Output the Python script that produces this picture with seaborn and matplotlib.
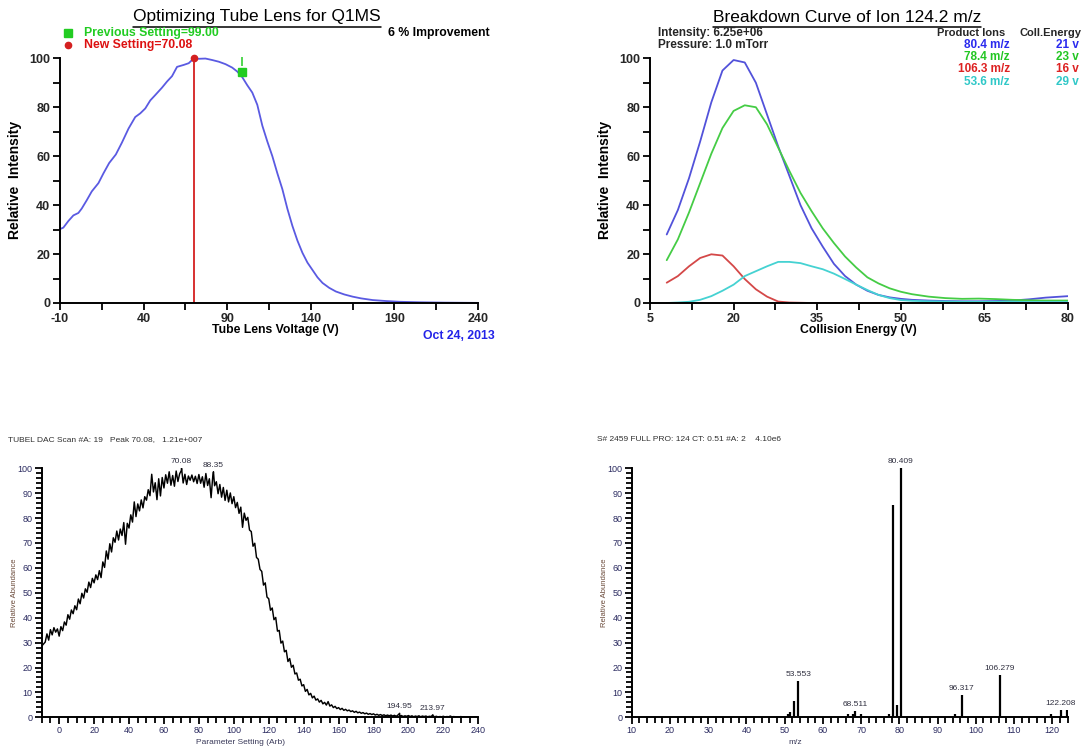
import numpy as np
import pandas as pd
import matplotlib
matplotlib.use("Agg")
import matplotlib.pyplot as plt
from matplotlib import font_manager
from matplotlib.lines import Line2D
import seaborn as sns

# ---------------- data ----------------
# Tube lens optimisation (relative intensity vs. tube lens voltage)
lens_voltage = [-10, -8, -5, -2, 1, 3, 6, 9, 13, 16, 19.4, 23.4, 27, 31, 35, 38, 41, 44,
                47, 51, 54, 57, 60, 64, 67, 70.08, 73, 77, 81, 85, 89, 93, 96, 99, 102,
                105, 108, 111, 114, 117, 120, 123, 126, 129, 132, 135, 138, 141, 144,
                147, 151, 155, 160, 165, 170, 177, 185, 193, 205, 220, 240]
lens_intensity = [30.2, 30.8, 33.5, 35.8, 36.8, 38.6, 42.0, 45.6, 49.0, 53.0, 57.2, 60.7,
                  65.5, 71.3, 76.0, 77.5, 79.5, 82.8, 85.0, 88.0, 90.5, 92.7, 96.5, 97.3,
                  98.0, 100.0, 99.8, 99.9, 99.3, 98.6, 97.6, 96.2, 94.6, 92.3, 89.0, 86.0,
                  81.0, 72.5, 66.0, 60.0, 53.0, 46.5, 38.5, 31.5, 25.5, 20.5, 16.5, 13.5,
                  10.5, 8.2, 6.2, 4.7, 3.5, 2.6, 1.9, 1.2, 0.8, 0.5, 0.3, 0.15, 0.05]
previous_setting = 99.00
previous_intensity = 94.3
new_setting = 70.08
new_intensity = 100.0
improvement_pct = 6

# Breakdown curve of ion 124.2 m/z
collision_energy = [8, 10, 12, 14, 16, 18, 20, 22, 24, 26, 28, 30, 32, 34, 36, 38, 40, 42,
                    44, 46, 48, 50, 52, 55, 58, 61, 64, 67, 70, 73, 76, 80]
ion_80_4 = [28.0, 38.0, 51.0, 66.0, 82.0, 95.0, 99.3, 98.3, 90.0, 77.0, 64.0, 52.0, 40.0,
            30.5, 23.0, 16.0, 11.0, 7.5, 5.0, 3.3, 2.3, 1.7, 1.3, 1.0, 0.8, 0.7, 0.7, 0.8,
            1.0, 1.5, 2.2, 2.8]
ion_78_4 = [17.5, 26.0, 37.0, 49.0, 61.0, 71.5, 78.5, 80.8, 80.0, 73.0, 63.5, 54.0, 45.0,
            37.5, 30.5, 24.5, 19.0, 14.5, 10.5, 8.0, 6.0, 4.6, 3.6, 2.6, 2.0, 1.7, 1.8, 1.6,
            1.3, 1.1, 1.0, 1.0]
ion_106_3 = [8.3, 11.0, 15.0, 18.4, 19.9, 19.4, 15.0, 9.8, 5.6, 2.6, 0.6, 0.2, 0.1, 0.0,
             0.0, 0.0, 0.0, 0.0, 0.0, 0.0, 0.0, 0.0, 0.0, 0.0, 0.0, 0.0, 0.0, 0.0, 0.0, 0.0,
             0.0, 0.0]
ion_53_6 = [0.0, 0.2, 0.5, 1.3, 2.8, 5.0, 7.5, 11.0, 13.0, 15.0, 16.8, 16.8, 16.3, 15.0,
            13.8, 12.0, 9.8, 7.5, 5.3, 3.3, 2.0, 1.2, 0.9, 0.7, 0.6, 0.5, 0.5, 0.5, 0.5, 0.4,
            0.4, 0.4]
product_ions = ["80.4 m/z", "78.4 m/z", "106.3 m/z", "53.6 m/z"]
optimal_energy = ["21 v", "23 v", "16 v", "29 v"]

# TUBEL DAC scan, one reading per unit from -10 to 240
scan_abundance = [
    28.6, 29.4, 30.2, 33.5, 31.0, 35.2, 33.1, 36.0, 34.2, 35.5,
    32.6, 36.4, 34.8, 38.3, 37.0, 41.2, 39.4, 43.1, 41.6, 44.8,
    43.2, 47.5, 45.6, 49.8, 47.9, 51.6, 50.2, 54.3, 52.1, 55.8,
    54.0, 57.2, 55.3, 58.9, 56.1, 62.4, 60.2, 66.8, 63.5, 69.7,
    66.4, 72.1, 70.3, 74.8, 71.2, 75.6, 73.0, 78.2, 69.5, 77.9,
    76.0, 81.3, 78.4, 86.5, 80.6, 85.7, 82.9, 87.3, 84.1, 88.6,
    87.2, 91.4, 89.0, 97.6, 90.5, 94.2, 87.4, 95.8, 88.9, 96.3,
    92.1, 97.4, 94.0, 98.6, 93.2, 97.1, 92.8, 98.9, 94.7, 97.8,
    99.2, 94.1, 97.6, 93.5, 96.9, 95.2, 97.3, 94.6, 96.8, 93.9,
    97.5, 94.0, 96.6, 92.4, 97.9, 93.1, 95.8, 88.2, 97.2, 93.0,
    94.6, 89.8, 93.5, 88.4, 92.3, 87.1, 91.2, 86.5, 90.1, 85.8,
    88.6, 84.2, 86.3, 81.9, 84.4, 76.3, 82.0, 79.1, 80.3, 75.2,
    74.6, 68.7, 69.9, 64.2, 63.5, 59.4, 58.6, 53.1, 54.0, 48.3,
    47.6, 43.0, 43.9, 39.2, 40.1, 34.6, 34.9, 29.8, 30.6, 26.3,
    26.9, 22.4, 23.6, 20.1, 20.9, 17.4, 17.8, 14.9, 15.3, 12.6,
    13.1, 10.4, 11.2, 9.0, 9.6, 7.8, 8.5, 6.9, 7.4, 6.1,
    6.8, 5.4, 6.0, 4.9, 6.3, 4.5, 5.0, 3.9, 4.4, 3.5,
    3.9, 3.1, 3.6, 2.8, 3.2, 2.6, 2.9, 2.3, 2.6, 2.0,
    2.4, 1.8, 2.1, 1.6, 1.9, 1.4, 1.7, 1.2, 1.5, 1.1,
    1.4, 0.9, 1.2, 0.8, 1.1, 0.7, 1.0, 0.6, 0.9, 0.6,
    0.9, 0.5, 0.8, 0.4, 0.9, 0.5, 0.7, 0.3, 0.6, 0.4,
    0.7, 0.3, 0.6, 0.2, 0.5, 0.3, 0.6, 0.2, 0.5, 0.3,
    0.5, 0.2, 0.4, 0.3, 0.6, 0.2, 0.4, 0.1, 0.3, 0.2,
    0.4, 0.1, 0.3, 0.2, 0.5, 0.1, 0.3, 0.1, 0.2, 0.1,
    0.3, 0.1, 0.2, 0.0, 0.2, 0.1, 0.1, 0.0, 0.1, 0.0, 0.0]
scan_peaks_x = [70.08, 88.35, 194.95, 213.97]
scan_peaks_y = [100.0, 98.6, 1.6, 1.0]

# Product ion spectrum of m/z 124
spec_mz = [50.96, 51.40, 52.45, 53.553, 66.65, 67.80, 68.511, 69.90, 77.40, 78.45,
           79.45, 80.409, 94.55, 96.317, 106.279, 119.80, 122.208, 123.90]
spec_abundance = [1.2, 2.3, 6.4, 14.4, 1.2, 1.3, 2.4, 1.2, 1.2, 85.3,
                  4.8, 100.0, 1.2, 9.0, 16.8, 1.2, 2.9, 2.9]
spec_labelled = [53.553, 68.511, 80.409, 96.317, 106.279, 122.208]

# ---------------- style ----------------
sns.set_theme(style="white")
installed = {f.name for f in font_manager.fontManager.ttflist}
NARROW = "Liberation Sans Narrow" if "Liberation Sans Narrow" in installed else "Liberation Sans"
plt.rcParams["font.family"] = ["Liberation Sans", "DejaVu Sans"]
plt.rcParams["axes.edgecolor"] = "black"
plt.rcParams["axes.unicode_minus"] = False

W, H = 1082, 746
fig = plt.figure(figsize=(W / 100, H / 100), dpi=100)


def fx(px):
    return px / W


def fy(py):
    return 1 - py / H


def panel(left, top, right, bottom):
    return fig.add_axes([fx(left), fy(bottom), fx(right) - fx(left), (bottom - top) / H])


def style_top(ax):
    for s in ("top", "right"):
        ax.spines[s].set_visible(False)
    for s in ("left", "bottom"):
        ax.spines[s].set_linewidth(1.4)
    ax.tick_params(which="both", direction="out", length=5, width=1.3,
                   color="black", labelsize=9, pad=2, left=True, bottom=True)
    for lab in ax.get_xticklabels() + ax.get_yticklabels():
        lab.set_fontweight("bold")
        lab.set_family(NARROW)
    ax.set_ylim(0, 100)
    ax.set_yticks(np.arange(0, 101, 20))
    ax.set_yticks(np.arange(10, 100, 20), minor=True)
    ax.set_facecolor("white")


def style_bottom(ax):
    for s in ("top", "right"):
        ax.spines[s].set_visible(False)
    for s in ("left", "bottom"):
        ax.spines[s].set_linewidth(1.4)
    ax.tick_params(which="major", direction="out", length=5, width=1.3, color="black",
                   labelsize=6.5, labelcolor="#2b2b60", pad=1.5, left=True, bottom=True)
    ax.tick_params(which="minor", direction="out", length=4, width=1.3, color="black",
                   left=True, bottom=True)
    ax.set_ylim(0, 100)
    ax.set_yticks(np.arange(0, 101, 10))
    ax.set_yticks(np.arange(0, 101, 2), minor=True)
    ax.set_facecolor("white")


def underline(txt, gap=2):
    fig.canvas.draw()
    bb = txt.get_window_extent(fig.canvas.get_renderer())
    y = (bb.y0 - gap) / H
    fig.add_artist(Line2D([bb.x0 / W, bb.x1 / W], [y, y], transform=fig.transFigure,
                          color="black", lw=1.1))


# ---------------- top left: tube lens ----------------
ax1 = panel(60, 58.3, 478, 303)
lens_df = pd.DataFrame({"voltage": lens_voltage, "intensity": lens_intensity})
sns.lineplot(data=lens_df, x="voltage", y="intensity", ax=ax1, color="#5a5ae2",
             lw=1.3, estimator=None, sort=False, clip_on=False)
ax1.vlines(new_setting, 0, new_intensity, color="#d42020", lw=1.3)
ax1.plot(new_setting, new_intensity, "o", color="#d42020", ms=4.5, clip_on=False, zorder=5)
ax1.plot(previous_setting, previous_intensity, "s", color="#22cc22", ms=6, clip_on=False, zorder=5)
ax1.vlines(previous_setting, previous_intensity + 2.6, 100.5, color="#22cc22", lw=1.1,
           clip_on=False)
ax1.set_xlim(-10, 240)
ax1.set_xticks(np.arange(-10, 241, 50))
ax1.set_xticks(np.arange(15, 241, 50), minor=True)
ax1.set_xlabel("")
ax1.set_ylabel("")
style_top(ax1)

t1 = fig.text(fx(257), fy(17), "Optimizing Tube Lens for Q1MS", ha="center", va="center",
              fontsize=12.5, color="black")
underline(t1)
fig.add_artist(Line2D([fx(68)], [fy(33)], marker="s", color="#22cc22", ms=5.5,
                      transform=fig.transFigure))
fig.add_artist(Line2D([fx(68)], [fy(45)], marker="o", color="#d42020", ms=4.5,
                      transform=fig.transFigure))
fig.text(fx(84), fy(33), f"Previous Setting={previous_setting:.2f}", ha="left", va="center",
         fontsize=8.8, fontweight="bold", color="#22cc22", family=NARROW)
fig.text(fx(84), fy(45), f"New Setting={new_setting:.2f}", ha="left", va="center",
         fontsize=8.8, fontweight="bold", color="#dd1111", family=NARROW)
fig.text(fx(490), fy(33), f"{improvement_pct} % Improvement", ha="right", va="center",
         fontsize=8.8, fontweight="bold", color="black", family=NARROW)
fig.text(fx(15), fy(180), "Relative  Intensity", rotation=90, ha="center", va="center",
         fontsize=10, fontweight="bold", color="black")
fig.text(fx(275), fy(330), "Tube Lens Voltage (V)", ha="center", va="center",
         fontsize=8.8, fontweight="bold", color="black", family=NARROW)
fig.text(fx(495), fy(336), "Oct 24, 2013", ha="right", va="center",
         fontsize=8.8, fontweight="bold", color="#2323e8", family=NARROW)

# ---------------- top right: breakdown curve ----------------
ax2 = panel(650, 58.3, 1068, 303)
line_colors = ["#5252da", "#45cc45", "#d44848", "#45d2d2"]
text_colors = ["#2a2aee", "#22c622", "#dd2222", "#30c8c8"]
breakdown = pd.DataFrame({"energy": collision_energy * 4,
                          "intensity": ion_80_4 + ion_78_4 + ion_106_3 + ion_53_6,
                          "ion": np.repeat(product_ions, len(collision_energy))})
sns.lineplot(data=breakdown, x="energy", y="intensity", hue="ion", hue_order=product_ions,
             palette=line_colors, ax=ax2, lw=1.3, estimator=None, sort=False, legend=False)
ax2.set_xlim(5, 80)
ax2.set_xticks(np.arange(5, 81, 15))
ax2.set_xticks(np.arange(12.5, 80, 15), minor=True)
ax2.set_xlabel("")
ax2.set_ylabel("")
style_top(ax2)

t2 = fig.text(fx(847), fy(17), "Breakdown Curve of Ion 124.2 m/z", ha="center", va="center",
              fontsize=12.5, color="black")
underline(t2)
fig.text(fx(658), fy(33), "Intensity: 6.25e+06", ha="left", va="center",
         fontsize=8.5, fontweight="bold", family=NARROW)
fig.text(fx(658), fy(44.5), "Pressure: 1.0 mTorr", ha="left", va="center",
         fontsize=8.5, fontweight="bold", family=NARROW)
fig.text(fx(1005), fy(33), "Product Ions", ha="right", va="center",
         fontsize=8, fontweight="bold", family=NARROW)
fig.text(fx(1081), fy(33), "Coll.Energy", ha="right", va="center",
         fontsize=8, fontweight="bold", family=NARROW)
for i, (ion, ce) in enumerate(zip(product_ions, optimal_energy)):
    yy = 44.5 + i * 12.5
    fig.text(fx(1010), fy(yy), ion, ha="right", va="center", fontsize=8.5,
             fontweight="bold", color=text_colors[i], family=NARROW)
    fig.text(fx(1079), fy(yy), ce, ha="right", va="center", fontsize=8.5,
             fontweight="bold", color=text_colors[i], family=NARROW)
fig.text(fx(605), fy(180), "Relative  Intensity", rotation=90, ha="center", va="center",
         fontsize=10, fontweight="bold", color="black")
fig.text(fx(858), fy(330), "Collision Energy (V)", ha="center", va="center",
         fontsize=8.8, fontweight="bold", color="black", family=NARROW)

# ---------------- bottom left: DAC scan ----------------
ax3 = panel(41.7, 468.3, 478.3, 717.3)
scan_x = np.arange(-10, 241, 1.0)
scan_df = pd.concat([
    pd.DataFrame({"setting": scan_x, "abundance": scan_abundance}),
    pd.DataFrame({"setting": scan_peaks_x, "abundance": scan_peaks_y}),
]).sort_values("setting")
sns.lineplot(data=scan_df, x="setting", y="abundance", ax=ax3, color="black", lw=1.05,
             estimator=None, sort=False)
for px_, py_ in zip(scan_peaks_x, scan_peaks_y):
    ax3.text(px_, py_ + 1.3, f"{px_:.2f}", ha="center", va="bottom", fontsize=6,
             color="#303040", clip_on=False)
ax3.set_xlim(-10, 240)
ax3.set_xticks(np.arange(0, 241, 20))
ax3.set_xticks(np.arange(-10, 241, 5), minor=True)
ax3.set_xlabel("")
ax3.set_ylabel("")
style_bottom(ax3)
fig.text(fx(8), fy(440), "TUBEL DAC Scan #A: 19   Peak 70.08,   1.21e+007", ha="left",
         va="center", fontsize=6, color="#303030")
fig.text(fx(15), fy(593), "Relative Abundance", rotation=90, ha="center", va="center",
         fontsize=5.5, color="#6a4a3a")
fig.text(fx(240), fy(743), "Parameter Setting (Arb)", ha="center", va="center",
         fontsize=6, color="#3a3a5a")

# ---------------- bottom right: spectrum ----------------
ax4 = panel(631.7, 468.3, 1068.3, 717.3)
ax4.vlines(spec_mz, 0, spec_abundance, color="black", lw=1.6)
for mz, ab in zip(spec_mz, spec_abundance):
    if mz in spec_labelled:
        ax4.text(mz, ab + 1.2, f"{mz:.3f}", ha="center", va="bottom", fontsize=6,
                 color="#303040", clip_on=False)
ax4.set_xlim(10, 124.2)
ax4.set_xticks(np.arange(10, 121, 10))
ax4.set_xticks(np.arange(10, 124.2, 2), minor=True)
style_bottom(ax4)
fig.text(fx(597), fy(440), "S# 2459 FULL PRO: 124 CT: 0.51 #A: 2    4.10e6", ha="left",
         va="center", fontsize=6, color="#303030")
fig.text(fx(605), fy(593), "Relative Abundance", rotation=90, ha="center", va="center",
         fontsize=5.5, color="#6a4a3a")
fig.text(fx(795), fy(743), "m/z", ha="center", va="center", fontsize=6, color="#3a3a5a")

fig.savefig("out.png", dpi=100, facecolor="white")
